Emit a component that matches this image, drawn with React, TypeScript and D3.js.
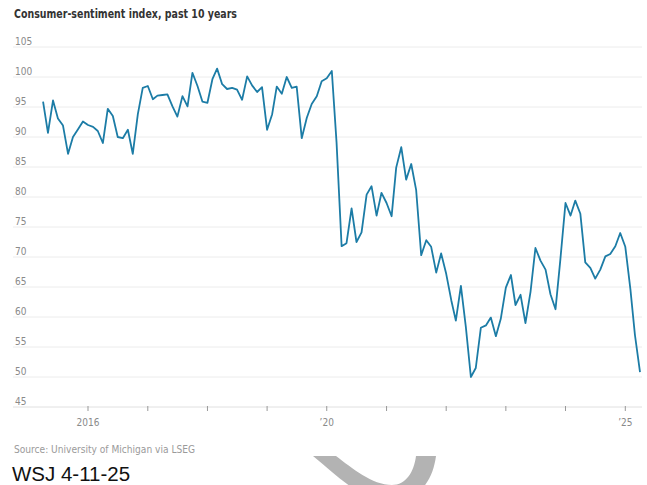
import React from "react";
import * as d3 from "d3";

const title = "Consumer-sentiment index, past 10 years";
const source = "Source: University of Michigan via LSEG";
const stamp = "WSJ 4-11-25";

const startMonth = "2015-04";
const sentiment = [
  // 2015 Apr-Dec
  95.9, 90.7, 96.1, 93.1, 91.9, 87.2, 90.0, 91.3, 92.6,
  // 2016
  92.0, 91.7, 91.0, 89.0, 94.7, 93.5, 90.0, 89.8, 91.2, 87.2, 93.8, 98.2,
  // 2017
  98.5, 96.3, 96.9, 97.0, 97.1, 95.1, 93.4, 96.8, 95.1, 100.7, 98.5, 95.9,
  // 2018
  95.7, 99.7, 101.4, 98.8, 98.0, 98.2, 97.9, 96.2, 100.1, 98.6, 97.5, 98.3,
  // 2019
  91.2, 93.8, 98.4, 97.2, 100.0, 98.2, 98.4, 89.8, 93.2, 95.5, 96.8, 99.3,
  // 2020
  99.8, 101.0, 89.1, 71.8, 72.3, 78.1, 72.5, 74.1, 80.4, 81.8, 76.9, 80.7,
  // 2021
  79.0, 76.8, 84.9, 88.3, 82.9, 85.5, 81.2, 70.3, 72.8, 71.7, 67.4, 70.6,
  // 2022
  67.2, 62.8, 59.4, 65.2, 58.4, 50.0, 51.5, 58.2, 58.6, 59.9, 56.8, 59.7,
  // 2023
  64.9, 67.0, 62.0, 63.7, 59.0, 64.2, 71.5, 69.4, 67.9, 63.8, 61.3, 69.7,
  // 2024
  79.0, 76.9, 79.4, 77.2, 69.1, 68.2, 66.4, 67.9, 70.1, 70.5, 71.8, 74.0,
  // 2025 Jan-Apr
  71.7, 64.7, 57.0, 50.8,
];

const yTicks = [45, 50, 55, 60, 65, 70, 75, 80, 85, 90, 95, 100, 105];
const xTickYears = [2016, 2017, 2018, 2019, 2020, 2021, 2022, 2023, 2024, 2025];
const xTickLabels: Record<number, string> = { 2016: "2016", 2020: "\u201920", 2025: "\u201925" };

const FONT = "'Liberation Sans Narrow', 'DejaVu Sans Condensed', 'Roboto Condensed', 'Liberation Sans', sans-serif";

export default function App() {
  const W = 647;
  const H = 485;
  const parse = d3.timeParse("%Y-%m");
  const start = parse(startMonth) as Date;
  const data = sentiment.map((v, i) => ({ date: d3.timeMonth.offset(start, i), value: v }));

  const x = d3
    .scaleTime()
    .domain([new Date(2016, 0, 1), new Date(2025, 0, 1)])
    .range([88, 625.3]);
  const y = d3.scaleLinear().domain([45, 105]).range([407, 47]);

  const line = d3
    .line<{ date: Date; value: number }>()
    .x((d) => x(d.date))
    .y((d) => y(d.value))
    .curve(d3.curveLinear);

  const gridX0 = 13;
  const gridX1 = 642;

  return (
    <svg
      width={W}
      height={H}
      viewBox={`0 0 ${W} ${H}`}
      style={{ position: "absolute", left: 0, top: 0, background: "#fff" }}
    >
      <rect x={0} y={0} width={W} height={H} fill="#fff" />
      <text
        x={14}
        y={18}
        fontFamily={FONT}
        fontWeight="bold"
        fontSize={12.5}
        fill="#333"
        textLength={223}
        lengthAdjust="spacingAndGlyphs"
      >
        {title}
      </text>

      {yTicks.map((t) => (
        <g key={t}>
          <line x1={gridX0} x2={gridX1} y1={y(t)} y2={y(t)} stroke={t === 45 ? "#e0e0e0" : "#ececec"} strokeWidth={1} />
          <text x={15} y={y(t) - 2.5} fontFamily={FONT} fontSize={10} fill="#8a8a8a">
            {t}
          </text>
        </g>
      ))}

      {xTickYears.map((yr) => {
        const px = x(new Date(yr, 0, 1));
        return (
          <g key={yr}>
            <line x1={px} x2={px} y1={y(45) - 1} y2={y(45) + 4} stroke="#999" strokeWidth={1} />
            {xTickLabels[yr] && (
              <text x={px} y={425.5} textAnchor="middle" fontFamily={FONT} fontSize={10} fill="#8a8a8a">
                {xTickLabels[yr]}
              </text>
            )}
          </g>
        );
      })}

      <path d={line(data) || ""} fill="none" stroke="#1c7ca6" strokeWidth={1.8} strokeLinejoin="round" />

      <text
        x={14}
        y={453}
        fontFamily={FONT}
        fontSize={10}
        fill="#9a9a9a"
        textLength={181}
        lengthAdjust="spacingAndGlyphs"
      >
        {source}
      </text>

      <path
        d="M313,456 C338,476 358,500 392,500 C422,500 433,478 436,456 L416,456 C414,472 406,485 392,485 C372,485 352,468 336,456 Z"
        fill="#b3b3b3"
      />

      <text x={12} y={481} fontFamily="'Liberation Sans', Arial, sans-serif" fontSize={20.5} fill="#111">
        {stamp}
      </text>
    </svg>
  );
}
